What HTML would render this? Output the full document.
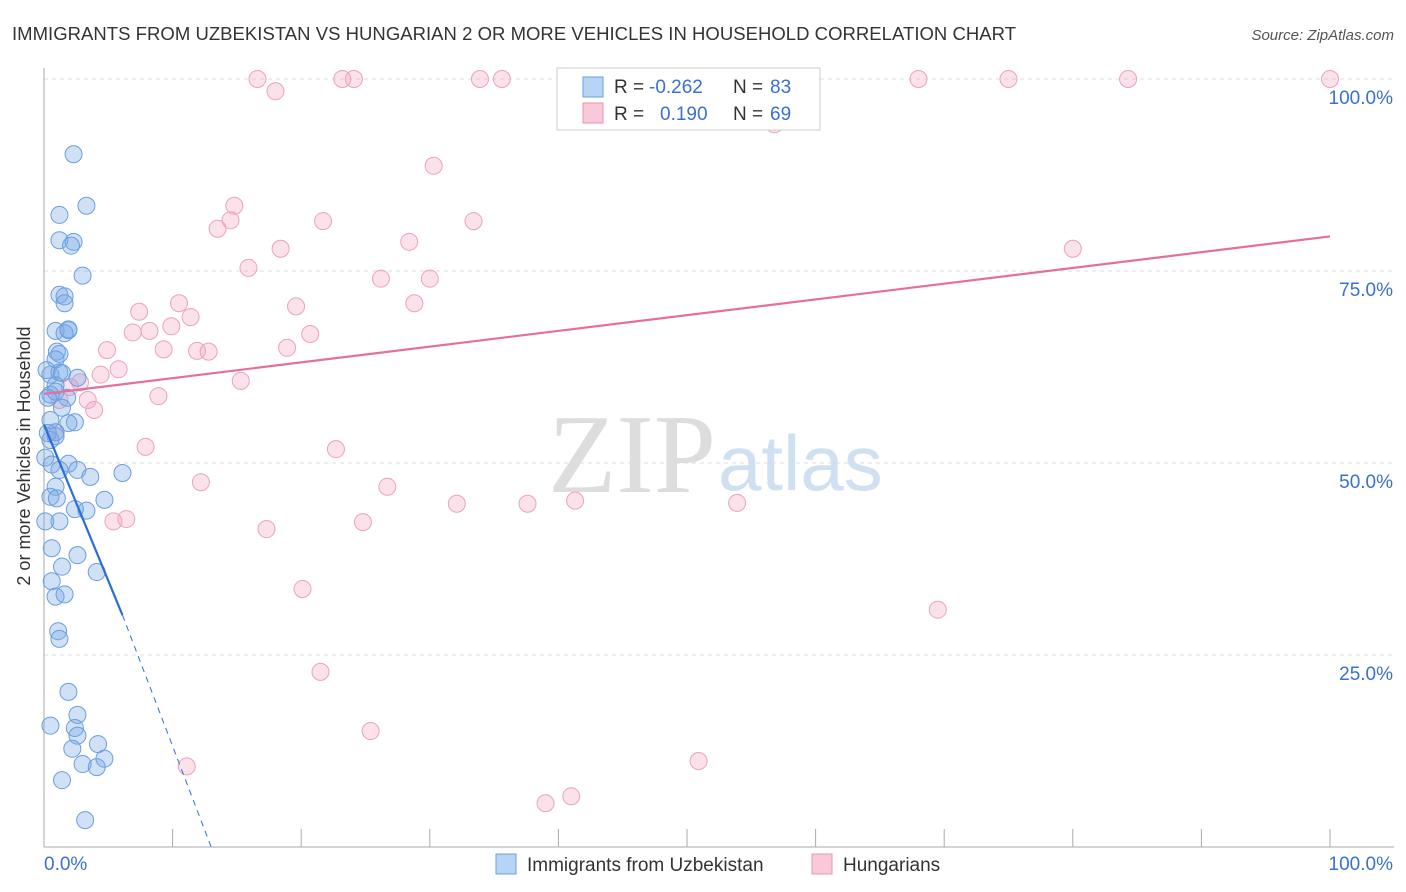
<!DOCTYPE html>
<html><head><meta charset="utf-8">
<style>
body{margin:0;background:#fff;font-family:"Liberation Sans",sans-serif;}
#wrap{position:relative;width:1406px;height:892px;overflow:hidden;}
</style></head>
<body>
<div id="wrap">
<svg id="svg" width="1406" height="892" xmlns="http://www.w3.org/2000/svg">
<text x="12" y="40" font-size="18.5" fill="#333" textLength="1004">IMMIGRANTS FROM UZBEKISTAN VS HUNGARIAN 2 OR MORE VEHICLES IN HOUSEHOLD CORRELATION CHART</text>
<text x="1394" y="40" font-size="15" fill="#555" font-style="italic" text-anchor="end">Source: ZipAtlas.com</text>
<text x="30" y="456" font-size="18" fill="#333" text-anchor="middle" transform="rotate(-90 30 456)">2 or more Vehicles in Household</text>
<text x="716" y="492" font-size="112" fill="#ddd" text-anchor="end" font-family="Liberation Serif,serif">ZIP</text>
<text x="718" y="490" font-size="78" fill="#cfe0f2">atlas</text>
<g id="grid"></g>
<g id="pts"></g>
<g id="trend"></g>
<g>
<rect x="557" y="68" width="263" height="62" fill="#fff" stroke="#ccc"/>
<rect x="583" y="77" width="20" height="20" fill="#b8d4f5" stroke="#6a9ee0"/>
<rect x="583" y="103" width="20" height="20" fill="#f9c9d7" stroke="#e895b0"/>
<text y="93" font-size="19" fill="#333"><tspan x="614">R =</tspan><tspan x="649" fill="#3a70d0">-0.262</tspan><tspan x="733">N =</tspan><tspan x="770" fill="#3a70d0">83</tspan></text>
<text y="120" font-size="19" fill="#333"><tspan x="614">R =</tspan><tspan x="660" fill="#3a70d0">0.190</tspan><tspan x="733">N =</tspan><tspan x="770" fill="#3a70d0">69</tspan></text>
</g>
<g>
<rect x="496" y="854" width="20" height="20" fill="#b8d4f5" stroke="#6a9ee0"/>
<text x="527" y="871" font-size="19" fill="#333">Immigrants from Uzbekistan</text>
<rect x="812" y="854" width="20" height="20" fill="#f9c9d7" stroke="#e895b0"/>
<text x="843" y="871" font-size="19" fill="#333">Hungarians</text>
</g>
</svg>
</div>
<script>
const blueX=[2.3,3.3,1.2,1.2,2.3,2.1,3,1.2,1.6,1.6,0.9,1.9,1.9,1.6,1,1.2,0.9,0.5,1.2,1.4,0.9,2.6,0.5,0.9,1.8,1.4,0.5,2.4,1.9,0.9,0.5,0.1,0.6,1.9,1.2,2.6,3.6,6.1,0.9,0.5,1,4.7,3.3,2.4,1.2,0.6,2.6,1.4,4.1,0.6,0.9,1.6,1.1,1.2,1.9,0.5,2.6,2.4,2.6,2.2,4.2,3,4.1,4.7,1.4,3.2,0.1,0.3,0.9,0.2,0.3];
const blueY=[90.2,83.5,82.3,79,78.8,78.3,74.4,71.9,71.7,70.8,67.2,67.3,67.4,66.9,64.5,64.2,63.5,61.5,61.8,61.7,60.1,61.1,58.9,59.3,58.5,57.2,55.6,55.3,55.2,54,53,50.7,49.8,49.9,49.1,49.1,48.2,48.7,46.9,45.6,45.4,45.2,43.8,44,42.4,38.9,38,36.5,35.8,34.6,32.6,32.9,28.1,27.1,20.2,15.8,17.2,15.5,14.5,12.8,13.4,10.8,10.4,11.5,8.7,3.5,42.4,53.9,53.5,62.1,58.5];
const pinkX=[16.6,18,23.2,24.1,33.9,35.6,56.8,68,75,84.3,100,30.3,14.8,14.5,13.5,21.7,33.4,28.4,18.4,80,15.9,26.2,30,10.5,7.4,19.6,11.4,28.8,9.9,8.2,6.9,20.7,4.9,9.3,11.9,12.8,18.9,5.8,4.4,15.3,2.8,2,8.9,3.4,3.9,1.2,0.9,7.9,22.7,12.2,26.7,32.1,37.6,41.3,53.9,5.4,6.4,24.8,17.3,20.1,69.5,21.5,25.4,11.1,50.9,41,39];
const pinkY=[100,98.4,100,100,100,100,94.1,100,100,100,100,88.7,83.5,81.6,80.5,81.5,81.5,78.8,77.9,77.9,75.4,74,74,70.8,69.7,70.4,69,70.8,67.8,67.2,67,66.8,64.7,64.8,64.6,64.5,65,62.2,61.5,60.7,60.5,59.9,58.7,58.2,56.9,58.2,54,52.1,51.8,47.5,46.9,44.7,44.7,45.1,44.8,42.4,42.7,42.3,41.4,33.6,30.9,22.8,15.1,10.5,11.2,6.6,5.7];
const X0=44,X1=1330,Y0=847,Y1=79;
const sx=v=>X0+(X1-X0)*v/100, sy=v=>Y0-(Y0-Y1)*v/100;
const ns="http://www.w3.org/2000/svg";
function mk(tag,attrs,parent){const e=document.createElementNS(ns,tag);for(const k in attrs)e.setAttribute(k,attrs[k]);parent.appendChild(e);return e;}
const grid=document.getElementById('grid');
const yTicks=[25,50,75,100];
yTicks.forEach(t=>{
 const l=mk('line',{x1:X0,x2:1394,y1:sy(t),y2:sy(t),stroke:'#ddd','stroke-dasharray':'4,4'},grid);
 
 
 const tx=mk('text',{x:1393,y:sy(t)+25,'font-size':19,fill:'#3a70d0','text-anchor':'end'},grid);
 tx.textContent=t.toFixed(1)+'%';
 
 
});
mk('line',{x1:X0,x2:X0,y1:68,y2:Y0,stroke:'#aaa'},grid);
mk('line',{x1:X0,x2:1394,y1:Y0,y2:Y0,stroke:'#aaa'},grid);
for(let i=1;i<=10;i++){const x=X0+i*(X1-X0)/10;mk('line',{x1:x,x2:x,y1:Y0,y2:Y0-18,stroke:'#aaa'},grid);}
const xl=mk('text',{x:44,y:870,'font-size':19,fill:'#3a70d0'},grid);xl.textContent='0.0%';


const xr=mk('text',{x:1393,y:870,'font-size':19,fill:'#3a70d0','text-anchor':'end'},grid);xr.textContent='100.0%';


const pts=document.getElementById('pts');
pinkX.forEach((x,i)=>{const c=mk('circle',{cx:sx(x),cy:sy(pinkY[i]),r:8.5,fill:'rgba(244,170,195,0.35)',stroke:'#eaa3bb','stroke-width':1},pts);

});
blueX.forEach((x,i)=>{const c=mk('circle',{cx:sx(x),cy:sy(blueY[i]),r:8.5,fill:'rgba(120,170,230,0.35)',stroke:'#6a9ee0','stroke-width':1},pts);

});
const tr=document.getElementById('trend');
const p=mk('line',{x1:sx(0),y1:sy(59),x2:sx(100),y2:sy(79.5),stroke:'#e4709a','stroke-width':2.2},tr);


const b=mk('line',{x1:sx(0),y1:sy(55),x2:sx(6.1),y2:sy(30.2),stroke:'#2a6fd6','stroke-width':2.2},tr);


const bd=mk('line',{x1:sx(6.1),y1:sy(30.2),x2:sx(13),y2:sy(0),stroke:'#2a6fd6','stroke-width':1,'stroke-dasharray':'6,5'},tr);


</script>
</body></html>
